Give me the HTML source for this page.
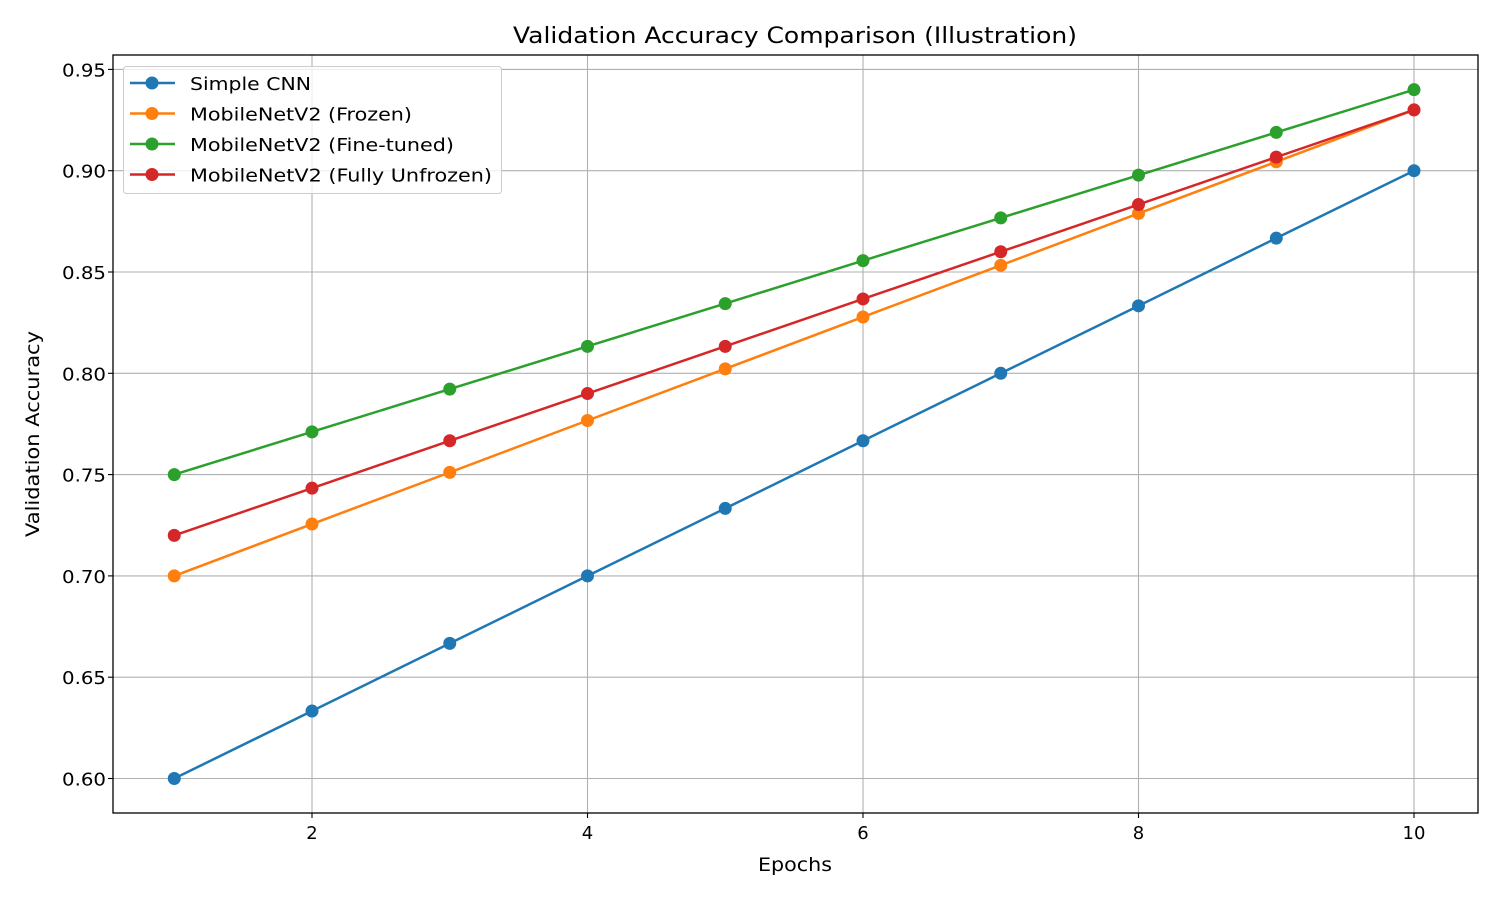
<!DOCTYPE html>
<html><head><meta charset="utf-8"><style>body{margin:0;background:#fff}svg{display:block;font-family:"DejaVu Sans","Liberation Sans",sans-serif}</style></head>
<body>
<svg id="chart" width="1500" height="900" xmlns="http://www.w3.org/2000/svg">
<rect width="1500" height="900" fill="#fff"/>
<g id="grid"></g><g id="axes"></g><g id="series"></g><g id="legend"></g>
</svg>
<script>
const epochs=[1,2,3,4,5,6,7,8,9,10];
const simpleCnn=[0.6,0.6333,0.6667,0.7,0.7333,0.7667,0.8,0.8333,0.8667,0.9];
const frozen=[0.7,0.7256,0.7511,0.7767,0.8022,0.8278,0.8533,0.8789,0.9044,0.93];
const fineTuned=[0.75,0.7711,0.7922,0.8133,0.8344,0.8556,0.8767,0.8978,0.9189,0.94];
const fullyUnfrozen=[0.72,0.7433,0.7667,0.79,0.8133,0.8367,0.86,0.8833,0.9067,0.93];
const xTicks=[2,4,6,8,10];
const yTicks=[0.60,0.65,0.70,0.75,0.80,0.85,0.90,0.95];
const seriesNames=["Simple CNN","MobileNetV2 (Frozen)","MobileNetV2 (Fine-tuned)","MobileNetV2 (Fully Unfrozen)"];
const seriesData=[simpleCnn,frozen,fineTuned,fullyUnfrozen];
const colors=["#1f77b4","#ff7f0e","#2ca02c","#d62728"];
const NS="http://www.w3.org/2000/svg";
const L=113,R=1478,T=55,B=813;
const x=v=>174.25+(v-1)*137.75;
const y=v=>778.5-(v-0.6)/0.05*101.3;
function mk(p,t,a){const e=document.createElementNS(NS,t);for(const k in a)e.setAttribute(k,a[k]);p.appendChild(e);return e;}
const grid=document.getElementById('grid'),axes=document.getElementById('axes'),ser=document.getElementById('series'),leg=document.getElementById('legend');
xTicks.forEach(t=>{
 const g=mk(grid,'line',{x1:x(t),x2:x(t),y1:T,y2:B,stroke:'#b0b0b0','stroke-width':1.1});
 
 mk(axes,'line',{x1:x(t),x2:x(t),y1:B,y2:B+5,stroke:'#000','stroke-width':1.1});
 const tx=mk(axes,'text',{x:x(t),y:B+26,'text-anchor':'middle','font-size':18});tx.textContent=t;
 
});
yTicks.forEach(t=>{
 const g=mk(grid,'line',{x1:L,x2:R,y1:y(t),y2:y(t),stroke:'#b0b0b0','stroke-width':1.1});
 
 mk(axes,'line',{x1:L-5,x2:L,y1:y(t),y2:y(t),stroke:'#000','stroke-width':1.1});
 const tx=mk(axes,'text',{x:L-7,y:y(t)+7,'text-anchor':'end','font-size':18,textLength:44,lengthAdjust:'spacingAndGlyphs'});tx.textContent=t.toFixed(2);
 
});
const fr=mk(axes,'rect',{x:L,y:T,width:R-L,height:B-T,fill:'none',stroke:'#000','stroke-width':1.3});

let tt=mk(axes,'text',{x:795,y:43,'text-anchor':'middle','font-size':22,textLength:564,lengthAdjust:'spacingAndGlyphs'});tt.textContent='Validation Accuracy Comparison (Illustration)';

let xt=mk(axes,'text',{x:795,y:871,'text-anchor':'middle','font-size':19,textLength:74,lengthAdjust:'spacingAndGlyphs'});xt.textContent='Epochs';

let yt=mk(axes,'text',{x:39,y:434,'text-anchor':'middle','font-size':19,transform:'rotate(-90 39 434)',textLength:206,lengthAdjust:'spacingAndGlyphs'});yt.textContent='Validation Accuracy';

seriesData.forEach((d,i)=>{
 const pl=mk(ser,'polyline',{points:d.map((v,j)=>x(epochs[j])+','+y(v)).join(' '),fill:'none',stroke:colors[i],'stroke-width':2.5});
 
 d.forEach((v,j)=>{const c=mk(ser,'circle',{cx:x(epochs[j]),cy:y(v),r:6.5,fill:colors[i]});
 });
});
const lb=mk(leg,'rect',{x:123.5,y:66.5,width:378,height:127,rx:3,fill:'#fff','fill-opacity':0.8,stroke:'#ccc'});

const legW=[121,222,264,302];
seriesNames.forEach((n,i)=>{
 const yy=83+i*30.5;
 mk(leg,'line',{x1:130,x2:175,y1:yy,y2:yy,stroke:colors[i],'stroke-width':2.5});
 mk(leg,'circle',{cx:152,cy:yy,r:6.5,fill:colors[i]});
 const t=mk(leg,'text',{x:190,y:yy+7,'font-size':18,textLength:legW[i],lengthAdjust:'spacingAndGlyphs'});t.textContent=n;
 
});
</script>
</body></html>
